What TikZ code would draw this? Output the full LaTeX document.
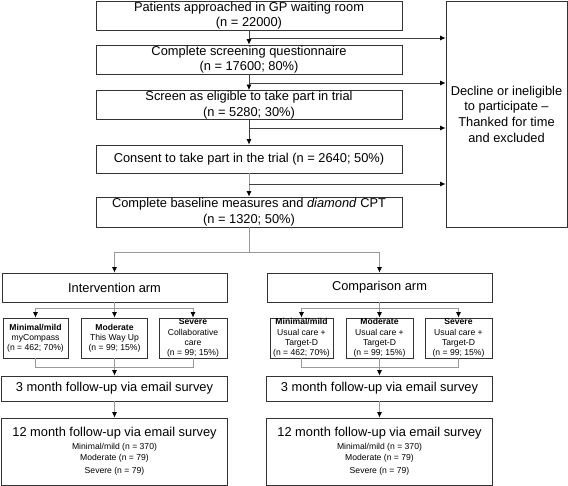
\documentclass[tikz,border=0pt]{standalone}
\usepackage{fontspec}
\setmainfont{Liberation Sans}
\usetikzlibrary{arrows.meta}
\newcommand{\smallfs}{\fontsize{8.6}{11}\selectfont}
\newcommand{\followlines}{\smallfs\begin{tabular}[t]{@{}c@{}}Minimal/mild (n = 370)\\Moderate (n = 79)\\[2pt]Severe (n = 79)\end{tabular}}
\tikzset{
  bigbox/.style={draw=black!80, line width=0.8pt, minimum width=306pt, inner sep=0pt, align=center, font=\fontsize{12.85}{15.5}\selectfont},
  decbox/.style={draw=black!80, line width=0.8pt, minimum width=121pt, minimum height=226pt, inner sep=0pt, align=center, font=\fontsize{12.85}{15.7}\selectfont},
  armbox/.style={draw=black!80, line width=0.8pt, minimum width=225pt, inner sep=0pt, align=center, font=\fontsize{12.85}{15.5}\selectfont},
  subbox/.style={draw=black!80, line width=0.8pt, minimum height=40pt, inner sep=0pt, align=center, font=\fontsize{8.6}{10.2}\selectfont},
  upline/.style={draw=black!75, line width=0.8pt},
  lowline/.style={draw=black!40, line width=0.8pt},
  arr/.style={-{Latex[length=5.5pt,width=5pt,color=black]}}
}
\begin{document}
\begin{tikzpicture}[x=1pt,y=-1pt]
\useasboundingbox (0,0) rectangle (568,486);

% top column
\node[bigbox, minimum height=29pt] (b1) at (249,15.5) {Patients approached in GP waiting room\\(n = 22000)};
\node[bigbox, minimum height=29pt] (b2) at (249,59.5) {Complete screening questionnaire\\(n = 17600; 80\%)};
\node[bigbox, minimum height=29pt] (b3) at (249,105) {Screen as eligible to take part in trial\\(n = 5280; 30\%)};
\node[bigbox, minimum height=28pt] (b4) at (249,159) {Consent to take part in the trial (n = 2640; 50\%)};
\node[bigbox, minimum height=30pt] (b5) at (249,212) {Complete baseline measures and \textit{diamond} CPT\\(n = 1320; 50\%)};
\node[decbox] (dec) at (506.5,114) {Decline or ineligible\\to participate –\\Thanked for time\\and excluded};

\draw[upline,arr] (b1.south) -- (b2.north);
\draw[upline,arr] (b2.south) -- (b3.north);
\draw[upline,arr] (b3.south) -- (b4.north);
\draw[lowline,arr] (b4.south) -- (b5.north);

\coordinate (j1) at (249,38);
\coordinate (j2) at (249,83);
\coordinate (j3) at (249,128);
\coordinate (j4) at (249,184);
\draw[upline,arr] (j1) -- (j1 -| dec.west);
\draw[upline,arr] (j2) -- (j2 -| dec.west);
\draw[upline,arr] (j3) -- (j3 -| dec.west);
\draw[upline,arr] (j4) -- (j4 -| dec.west);

% arms
\node[armbox, minimum height=29pt] (int) at (114.5,287.5) {Intervention arm};
\node[armbox, minimum height=29pt] (cmp) at (379.5,287.5) {Comparison arm};
\coordinate (sp) at (249,252);
\draw[lowline] (b5.south) -- (sp);
\draw[lowline,arr] (sp) -| (int.north);
\draw[lowline,arr] (sp) -| (cmp.north);

% intervention sub-boxes
\node[subbox, minimum width=65pt] (i1) at (35.5,338) {\textbf{Minimal/mild}\\myCompass\\(n = 462; 70\%)};
\node[subbox, minimum width=66pt] (i2) at (114.5,338) {\textbf{Moderate}\\This Way Up\\(n = 99; 15\%)};
\node[subbox, minimum width=68pt] (i3) at (193,338) {\textbf{Severe}\\Collaborative\\care\\(n = 99; 15\%)};
\coordinate (is) at (114.5,308);
\draw[lowline] (int.south) -- (is);
\draw[lowline,arr] (is) -| (i1.north);
\draw[lowline,arr] (is) -| (i3.north);
\draw[lowline,arr] (is) -- (i2.north);

% comparison sub-boxes
\node[subbox, minimum width=63pt] (c1) at (301.5,338) {\textbf{Minimal/mild}\\Usual care +\\Target-D\\(n = 462; 70\%)};
\node[subbox, minimum width=67pt] (c2) at (379.5,338) {\textbf{Moderate}\\Usual care +\\Target-D\\(n = 99; 15\%)};
\node[subbox, minimum width=67pt] (c3) at (458.5,338) {\textbf{Severe}\\Usual care +\\Target-D\\(n = 99; 15\%)};
\coordinate (cs) at (379.5,308);
\draw[lowline] (cmp.south) -- (cs);
\draw[lowline,arr] (cs) -| (c1.north);
\draw[lowline,arr] (cs) -| (c3.north);
\draw[lowline,arr] (cs) -- (c2.north);

% follow-ups
\node[armbox, minimum width=226pt, minimum height=25pt] (i3m) at (114.5,388.5) {3 month follow-up via email survey};
\node[armbox, minimum width=226pt, minimum height=67pt] (i12m) at (114.5,451.5) {12 month follow-up via email survey\\[-2.5pt]\followlines};
\node[armbox, minimum width=226pt, minimum height=25pt] (c3m) at (379.5,388.5) {3 month follow-up via email survey};
\node[armbox, minimum width=226pt, minimum height=67pt] (c12m) at (379.5,451.5) {12 month follow-up via email survey\\[-2.5pt]\followlines};

\coordinate (im) at (114.5,367);
\draw[lowline] (i1.south) |- (im);
\draw[lowline] (i3.south) |- (im);
\draw[lowline,arr] (i2.south) -- (i3m.north);
\draw[lowline,arr] (i3m.south) -- (i12m.north);

\coordinate (cm) at (379.5,367);
\draw[lowline] (c1.south) |- (cm);
\draw[lowline] (c3.south) |- (cm);
\draw[lowline,arr] (c2.south) -- (c3m.north);
\draw[lowline,arr] (c3m.south) -- (c12m.north);
\end{tikzpicture}
\end{document}
